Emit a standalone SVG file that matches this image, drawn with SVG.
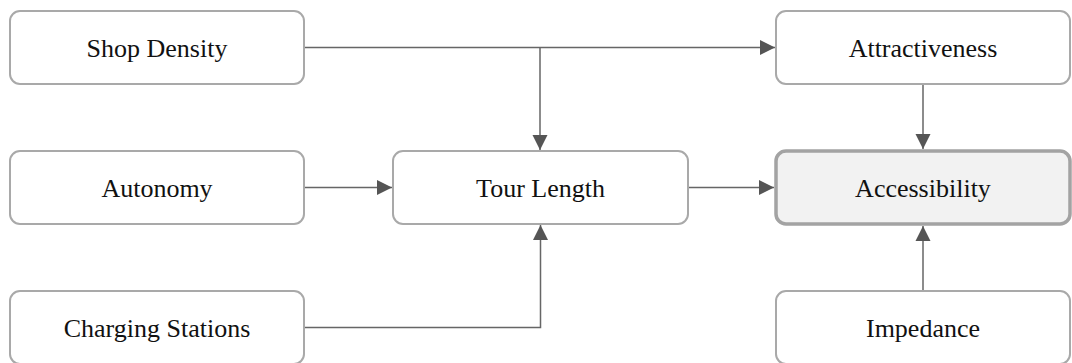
<svg xmlns="http://www.w3.org/2000/svg" width="1072" height="363" viewBox="0 0 1072 363">
  <style>
    .node rect { fill: #ffffff; stroke: #a9a9a9; stroke-width: 2; }
    .node.target rect { fill: #f2f2f2; stroke: #a3a3a3; stroke-width: 3.5; }
    .node text { font-family: 'Times New Roman', 'Liberation Serif', Tinos, 'DejaVu Serif', serif; font-size: 26px; fill: #111111; text-anchor: middle; }
    .edge { fill: none; stroke: #666666; stroke-width: 1.5; }
  </style>
  <defs>
    <marker id="arrow" markerUnits="userSpaceOnUse" markerWidth="16" markerHeight="16" viewBox="0 0 16 16" refX="15" refY="8" orient="auto">
      <path d="M0,0.5 L15,8 L0,15.5 Z" fill="#555555"/>
    </marker>
  </defs>
  <rect width="1072" height="363" fill="#ffffff"/>

  <!-- connectors -->
  <g id="connectors">
    <path class="edge" d="M304,47.5 H775" marker-end="url(#arrow)"/>
    <path class="edge" d="M540,47.5 V150" marker-end="url(#arrow)"/>
    <path class="edge" d="M304,187.5 H392" marker-end="url(#arrow)"/>
    <path class="edge" d="M304,327.5 H540.5 V225" marker-end="url(#arrow)"/>
    <path class="edge" d="M688,187.5 H774" marker-end="url(#arrow)"/>
    <path class="edge" d="M923,84 V149" marker-end="url(#arrow)"/>
    <path class="edge" d="M923,291 V226" marker-end="url(#arrow)"/>
  </g>

  <!-- nodes -->
  <g id="shop-density" class="node">
    <rect x="10" y="11" width="294" height="73" rx="10"/>
    <text x="157" y="56.5">Shop Density</text>
  </g>
  <g id="autonomy" class="node">
    <rect x="10" y="151" width="294" height="73" rx="10"/>
    <text x="157" y="196.5">Autonomy</text>
  </g>
  <g id="charging-stations" class="node">
    <rect x="10" y="291" width="294" height="73" rx="10"/>
    <text x="157" y="336.5">Charging Stations</text>
  </g>
  <g id="tour-length" class="node">
    <rect x="393" y="151" width="295" height="73" rx="10"/>
    <text x="540.5" y="196.5">Tour Length</text>
  </g>
  <g id="attractiveness" class="node">
    <rect x="776" y="11" width="294" height="73" rx="10"/>
    <text x="923" y="56.5">Attractiveness</text>
  </g>
  <g id="accessibility" class="node target">
    <rect x="776" y="151" width="294" height="73" rx="10"/>
    <text x="923" y="196.5">Accessibility</text>
  </g>
  <g id="impedance" class="node">
    <rect x="776" y="291" width="294" height="73" rx="10"/>
    <text x="923" y="336.5">Impedance</text>
  </g>
</svg>
